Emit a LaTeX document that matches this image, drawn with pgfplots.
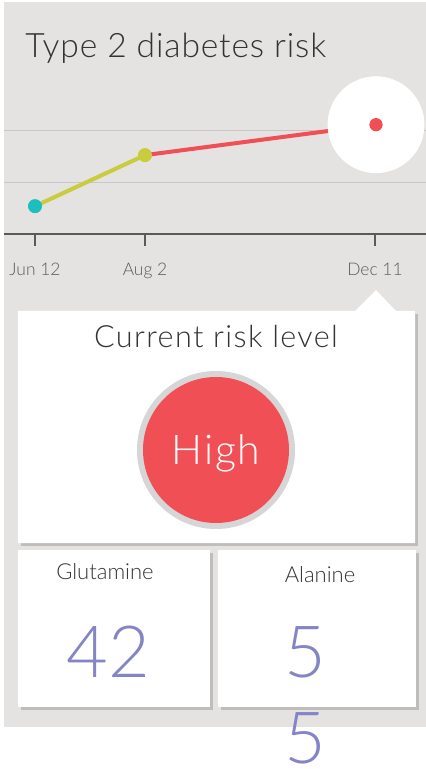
\documentclass[border=0pt]{standalone}
\usepackage{pgfplots}
\pgfplotsset{compat=1.18}
\usepackage{fontspec}
\setmainfont{Lato Light}
\newfontfamily\titlefont{Lato Light}[LetterSpace=2.5]
\newfontfamily\widefont{Lato Light}[LetterSpace=4.5]
\definecolor{bggray}{HTML}{E4E3E1}
\definecolor{gridgray}{HTML}{C9C8C6}
\definecolor{axisgray}{HTML}{5A5A5A}
\definecolor{teal}{HTML}{1CBFC0}
\definecolor{ygreen}{HTML}{C9CC3D}
\definecolor{rred}{HTML}{F04F56}
\definecolor{purp}{HTML}{8484C6}
\definecolor{shadow}{HTML}{BEBDBB}
\definecolor{ring}{HTML}{D6D6D6}
\definecolor{darktext}{HTML}{333333}
\begin{document}
\begin{tikzpicture}
\path[use as bounding box] (0,0) rectangle (213pt,-384.5pt);
\begin{scope}[x=0.5pt,y=-0.5pt]
\fill[bggray] (4,2) rectangle (426,727);
\node[anchor=base west, inner sep=0, text=darktext, font=\titlefont\fontsize{16.8}{18}\selectfont] at (25,58) {Type 2 diabetes risk};
\end{scope}
\begin{axis}[
  at={(2pt,-117pt)}, anchor=south west,
  scale only axis, width=211pt, height=116pt,
  xmin=4, xmax=426, ymin=0, ymax=4.5,
  axis x line*=bottom, axis y line*=left,
  y axis line style={draw=none},
  x axis line style={draw=axisgray, line width=0.6pt, -},
  xtick={35,145,375}, xticklabels={Jun 12,Aug 2,Dec 11},
  ytick={1,2}, yticklabels={}, ymajorgrids,
  grid style={gridgray, line width=0.5pt},
  y tick style={draw=none},
  tick align=outside, major tick length=6pt,
  x tick style={axisgray, line width=0.6pt},
  xticklabel style={font=\fontsize{8.7}{10}\selectfont, text=axisgray, anchor=base, yshift=-15pt},
  clip=false,
]
\addplot[only marks, mark=*, color=white, mark size=24pt] coordinates {(376,2.12)};
\addplot[ygreen, line width=2pt] coordinates {(35,0.54) (145,1.53)};
\addplot[rred, line width=2pt] coordinates {(145,1.53) (376,2.12)};
\addplot[only marks, mark=*, color=teal, mark size=3.3pt] coordinates {(35,0.54)};
\addplot[only marks, mark=*, color=ygreen, mark size=3.3pt] coordinates {(145,1.53)};
\addplot[only marks, mark=*, color=rred, mark size=3.1pt] coordinates {(376,2.12)};
\end{axis}
\begin{scope}[x=0.5pt,y=-0.5pt]
% top card
\fill[shadow] (21,314) rectangle (417.5,545.5);
\fill[white] (18,311) -- (355,311) -- (376,290) -- (396,311) -- (415,311) -- (415,543) -- (18,543) -- cycle;
\node[anchor=base, inner sep=0, text=darktext, font=\widefont\fontsize{15.3}{17}\selectfont] at (216,348) {Current risk level};
\fill[ring] (216,450) circle (79);
\fill[rred] (216,450) circle (73);
\node[anchor=base, inner sep=0, text=white, font=\widefont\fontsize{20.5}{23}\selectfont] at (216,464) {High};
% bottom cards
\fill[shadow] (21,553) rectangle (213,710);
\fill[white] (18,550) rectangle (210,707);
\fill[shadow] (221,553) rectangle (418.5,710);
\fill[white] (218,550) rectangle (416,707);
\node[anchor=base, inner sep=0, text=darktext, font=\fontsize{11}{13}\selectfont] at (105,579) {Glutamine};
\node[anchor=base, inner sep=0, text=darktext, font=\fontsize{11}{13}\selectfont] at (320,582) {Alanine};
\node[anchor=base, inner sep=0, text=purp, font=\fontsize{36}{44}\selectfont] at (108,677) {42};
\node[anchor=base, inner sep=0, text=purp, font=\fontsize{36}{44}\selectfont] at (305.5,677) {5};
\node[anchor=base, inner sep=0, text=purp, font=\fontsize{36}{44}\selectfont] at (305.5,763) {5};
\end{scope}
\end{tikzpicture}
\end{document}
